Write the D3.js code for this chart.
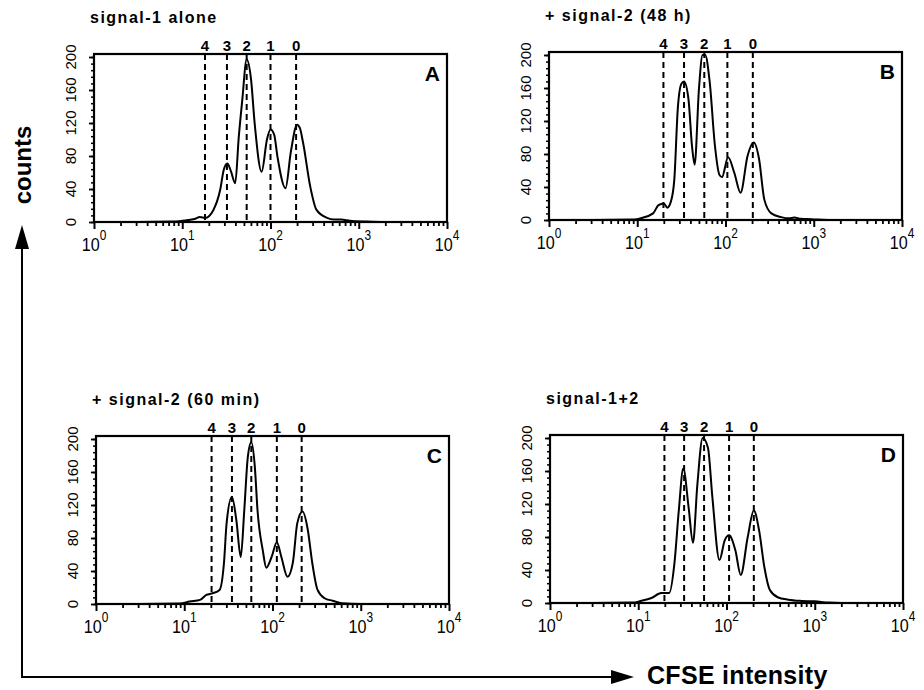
<!DOCTYPE html>
<html><head><meta charset="utf-8">
<script src="https://cdn.jsdelivr.net/npm/d3@7"></script>
<style>body{margin:0;background:#fff}svg{display:block}text{font-family:"Liberation Sans",Arial,sans-serif;fill:#000}</style>
</head><body>
<svg id="c" width="924" height="690"></svg>
<script>
// ---------- data ----------
const panelIds = ["A", "B", "C", "D"];
const panelTitles = ["signal-1 alone", "+ signal-2 (48 h)", "+ signal-2 (60 min)", "signal-1+2"];
const divisionLabels = ["4", "3", "2", "1", "0"];
const countTicks = [0, 40, 80, 120, 160, 200];
const decadeTicks = [1, 10, 100, 1000, 10000];
const decadeExponents = ["0", "1", "2", "3", "4"];
const yLabel = "counts";
const xLabel = "CFSE intensity";

// division marker positions (CFSE intensity)
const divA = [18.1, 32.1, 53.7, 100, 195];
const divB = [19.8, 33.9, 57.5, 105, 204];
const divC = [20.4, 34.7, 57.5, 112, 214];
const divD = [19.8, 33.1, 55.7, 107, 204];

// histogram readings: CFSE intensity / counts
const intA = [1, 3.16, 7.94, 10, 11.7, 14.1, 15.8, 18.2, 22.4, 26.9, 29.5, 32.4, 35.5, 39.8, 43.7, 47.9, 53.7, 60.3, 66.1, 79.4, 91.2, 100, 110, 120, 148, 170, 200, 215, 234, 282, 331, 437, 525, 631, 794, 1230, 1995, 10000];
const cntA = [0, 0, 0.5, 1.5, 2.5, 4, 6, 5, 14, 39, 63, 71, 62, 47, 103, 148, 197, 172, 120, 61, 100, 112, 106, 79, 41, 85, 118, 114, 96, 43, 15, 5, 3, 3, 1.5, 0.5, 0, 0];

const intB = [1, 3.16, 9.33, 11.2, 15.1, 17.4, 20.0, 21.9, 24.0, 26.3, 28.8, 31.6, 33.9, 38.0, 41.7, 44.7, 50.1, 55.0, 58.9, 66.1, 75.9, 85.1, 91.2, 107, 126, 148, 178, 209, 240, 275, 331, 427, 525, 603, 708, 933, 1585, 10000];
const cntB = [0, 0, 0.5, 2.5, 8, 18, 20, 15, 22, 49, 135, 165, 168, 147, 90, 67, 160, 200, 200, 168, 90, 55, 52, 76, 57, 33, 78, 94, 74, 25, 8, 3.5, 2, 3, 1.5, 1, 0, 0];

const intC = [1, 3.16, 8.91, 11.5, 15.1, 17.8, 20.9, 25.1, 28.2, 30.2, 34.7, 38.9, 43.7, 47.9, 52.5, 57.5, 63.1, 67.6, 77.6, 85.1, 97.7, 112, 126, 148, 170, 191, 219, 251, 282, 324, 389, 479, 617, 1000, 10000];
const cntC = [0, 0, 0.5, 3, 5, 11, 13, 17, 50, 98, 130, 102, 57, 114, 178, 196, 166, 114, 65, 44, 57, 75, 57, 33, 50, 98, 112, 90, 50, 17, 7, 4, 1, 0, 0];

const intD = [1, 3.16, 8.91, 10.2, 14.1, 18.2, 22.4, 25.7, 28.8, 32.4, 37.2, 41.7, 46.8, 53.7, 61.7, 69.2, 83.2, 95.5, 107, 126, 145, 174, 204, 234, 269, 309, 380, 501, 708, 1000, 1413, 1995, 10000];
const cntD = [0, 0, 0.5, 2, 6, 12, 12, 48, 112, 163, 116, 73, 144, 200, 188, 128, 52, 76, 82, 64, 34, 80, 112, 88, 43, 16, 7, 4, 2.5, 2, 0.5, 0, 0];

// ---------- layout ----------
const svg = d3.select("#c");
const layout = [
  {left: 94, bottom: 222},
  {left: 549, bottom: 220},
  {left: 96, bottom: 604},
  {left: 550, bottom: 603}
];
const W = 353, H = 165, topPad = 3;
const divs = [divA, divB, divC, divD];
const ints = [intA, intB, intC, intD];
const cnts = [cntA, cntB, cntC, cntD];

panelIds.forEach((id, i) => {
  const L = layout[i];
  const g = svg.append("g").attr("transform", `translate(${L.left},${L.bottom - H})`);
  const x = d3.scaleLog().domain([1, 10000]).range([0, W]);
  const y = d3.scaleLinear().domain([0, 200]).range([H, 0]);

  // minor x ticks
  const minor = [];
  for (let d = 0; d < 4; d++) for (let k = 2; k <= 9; k++) minor.push(k * Math.pow(10, d));
  g.append("g").attr("transform", `translate(0,${H})`)
    .call(d3.axisBottom(x).tickValues(minor).tickSize(4).tickFormat(""))
    .call(a => a.select(".domain").remove())
    .selectAll("line").attr("stroke-width", 1.8);
  const xa = g.append("g").attr("transform", `translate(0,${H})`)
    .call(d3.axisBottom(x).tickValues(decadeTicks).tickSize(7).tickFormat(""));
  xa.select(".domain").remove();
  xa.selectAll("line").attr("stroke-width", 2);

  // x labels with superscripts
  decadeTicks.forEach((v, j) => {
    const t = g.append("text")
      .attr("transform", `translate(${x(v)},${H + 29}) scale(0.85,1)`)
      .attr("text-anchor", "middle").attr("font-size", 19);
    t.append("tspan").text("10");
    t.append("tspan").attr("dy", -11).attr("font-size", 14).text(decadeExponents[j]);
  });

  // y axis ticks
  const yMinor = d3.range(0, 201, 8);
  g.append("g").call(d3.axisLeft(y).tickValues(yMinor).tickSize(3).tickFormat(""))
    .call(a => a.select(".domain").remove())
    .selectAll("line").attr("stroke-width", 1.5);
  const ya = g.append("g").call(d3.axisLeft(y).tickValues(countTicks).tickSize(5).tickFormat(""));
  ya.select(".domain").remove();
  ya.selectAll("line").attr("stroke-width", 1.8);
  countTicks.forEach(v => {
    g.append("text").attr("transform", `translate(-18,${y(v)}) rotate(-90)`)
      .attr("text-anchor", "middle").attr("font-size", 15).text(v);
  });

  // box
  g.append("rect").attr("x", 0).attr("y", -topPad).attr("width", W).attr("height", H + topPad)
    .attr("fill", "none").attr("stroke", "#000").attr("stroke-width", 2.2);

  // division dashed lines
  divs[i].forEach((v, j) => {
    g.append("line").attr("x1", x(v)).attr("x2", x(v)).attr("y1", -topPad).attr("y2", H)
      .attr("stroke", "#000").attr("stroke-width", 2).attr("stroke-dasharray", "6,4");
    g.append("text").attr("x", x(v)).attr("y", -topPad - 3).attr("text-anchor", "middle")
      .attr("font-size", 15).attr("font-weight", "bold").text(divisionLabels[j]);
  });

  // histogram
  const pts = ints[i].map((v, k) => [x(v), y(cnts[i][k])]);
  g.append("path").attr("d", d3.line().curve(d3.curveMonotoneX)(pts))
    .attr("fill", "none").attr("stroke", "#000").attr("stroke-width", 2);

  // panel letter
  g.append("text").attr("x", W - 7).attr("y", -topPad + 27).attr("text-anchor", "end")
    .attr("font-size", 21).attr("font-weight", "bold").text(id);

  // title
  g.append("text").attr("x", -4).attr("y", -topPad - 31)
    .attr("font-size", 16).attr("font-weight", "bold").attr("letter-spacing", 1.5)
    .text(panelTitles[i]);
});

// ---------- outer axes arrows ----------
svg.append("line").attr("x1", 22).attr("x2", 22).attr("y1", 678).attr("y2", 245)
  .attr("stroke", "#000").attr("stroke-width", 2);
svg.append("path").attr("d", "M22,225 L15,249 L29,249 Z").attr("fill", "#000");
svg.append("line").attr("x1", 21).attr("x2", 615).attr("y1", 677).attr("y2", 677)
  .attr("stroke", "#000").attr("stroke-width", 2);
svg.append("path").attr("d", "M634,677 L611,670 L611,684 Z").attr("fill", "#000");

svg.append("text").attr("transform", "translate(31,165) rotate(-90)")
  .attr("text-anchor", "middle").attr("font-size", 24).attr("font-weight", "bold").text(yLabel);
svg.append("text").attr("x", 647).attr("y", 684)
  .attr("font-size", 25).attr("font-weight", "bold").attr("letter-spacing", 0.3).text(xLabel);
</script>
</body></html>
